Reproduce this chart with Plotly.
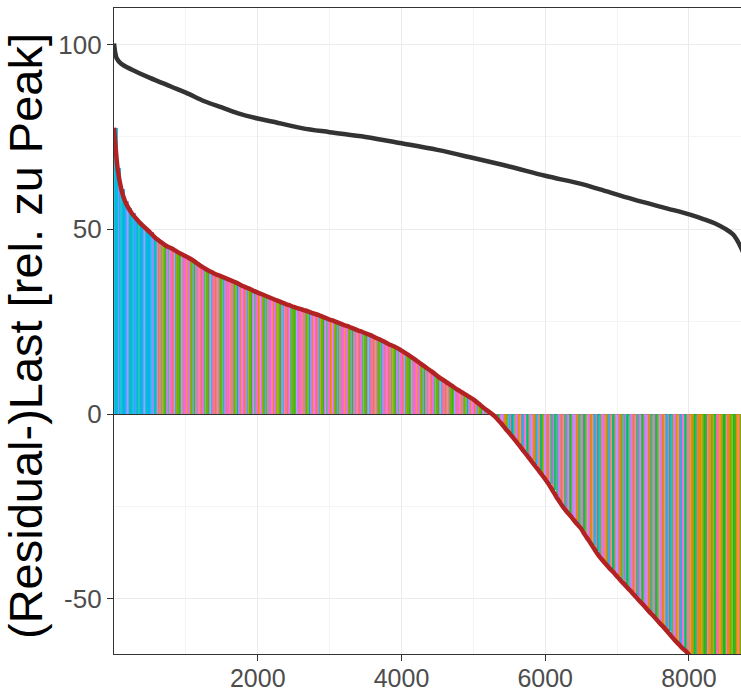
import plotly.graph_objects as go

# ---------------- data ----------------
hours = list(range(0, 8800, 50))  # 0 .. 8750
residual = [
    77.5, 66.5, 61.0, 57.8, 55.8, 54.3, 53.1, 52.0, 51.0, 50.1,   # 0-450
    49.2, 48.2, 47.3, 46.6, 45.9, 45.3, 44.9, 44.3, 43.7, 43.2,   # 500-950
    42.7, 42.2, 41.6, 40.9, 40.2, 39.6, 39.0, 38.5, 38.0, 37.6,   # 1000-1450
    37.2, 36.8, 36.4, 36.0, 35.6, 35.1, 34.6, 34.2, 33.8, 33.3,   # 1500-1950
    32.9, 32.5, 32.1, 31.7, 31.3, 30.9, 30.5, 30.1, 29.7, 29.4,   # 2000-2450
    29.0, 28.7, 28.4, 28.1, 27.8, 27.4, 27.1, 26.8, 26.4, 26.0,   # 2500-2950
    25.6, 25.3, 24.9, 24.5, 24.1, 23.8, 23.4, 23.0, 22.6, 22.3,   # 3000-3450
    21.9, 21.5, 21.1, 20.6, 20.2, 19.7, 19.2, 18.7, 18.3, 17.8,   # 3500-3950
    17.2, 16.6, 16.0, 15.3, 14.6, 13.9, 13.2, 12.5, 11.8, 11.1,   # 4000-4450
    10.3, 9.6, 9.0, 8.3, 7.7, 7.0, 6.4, 5.8, 5.2, 4.6,            # 4500-4950
    4.0, 3.2, 2.4, 1.6, 0.9, 0.2, -0.6, -1.7, -2.8, -4.0,         # 5000-5450
    -5.1, -6.3, -7.5, -8.7, -10.0, -11.2, -12.5, -13.8, -15.0, -16.3,  # 5500-5950
    -17.6, -19.0, -20.6, -22.2, -23.7, -25.2, -26.4, -27.5, -28.7, -29.9,  # 6000-6450
    -31.0, -32.6, -34.0, -35.5, -37.0, -38.4, -39.6, -40.7, -41.8, -42.8,  # 6500-6950
    -43.9, -45.0, -46.0, -47.1, -48.1, -49.2, -50.3, -51.3, -52.4, -53.5,  # 7000-7450
    -54.5, -55.6, -56.7, -57.7, -58.8, -60.0, -61.1, -62.1, -63.2, -64.0,  # 7500-7950
    -65.1, -66.3, -67.5, -68.8, -70.1, -71.5, -72.9, -74.4, -76.0, -77.6,  # 8000-8450
    -79.3, -81.2, -83.3, -85.7, -88.5, -92.0,                              # 8500-8750
]

load_hours = [0, 20, 40, 100, 250, 500, 800, 1000, 1267, 1500, 1727, 2000, 2195,
              2612, 3000, 3500, 4000, 4500, 5000, 5500, 6000, 6500, 6763, 7226,
              7690, 8015, 8200, 8386, 8500, 8615, 8700, 8760]
load = [100.3, 97.5, 96.2, 94.8, 93.2, 91.0, 88.6, 87.0, 84.6, 83.0, 81.4, 80.0, 79.2,
        77.4, 76.3, 75.0, 73.3, 71.5, 69.3, 67.0, 64.5, 62.3, 60.8, 58.1,
        55.7, 54.0, 52.8, 51.4, 50.2, 48.6, 46.0, 43.5]

x_ticks = [2000, 4000, 6000, 8000]
y_ticks = [-50, 0, 50, 100]
y_title = "(Residual-)Last [rel. zu Peak]"

# ---------------- styles ----------------
cool = ["#00BFC4", "#00B6EB", "#35A2FF", "#00AEFA", "#00C1AE", "#9590FF", "#00BBD8"]
mixed1 = ["#FF62BC", "#6BB100", "#F8766D", "#00C097", "#C77CFF", "#E38900",
          "#35A2FF", "#FA62DB", "#A9A400", "#00BFC4", "#E76BF3", "#39B600"]
mixed2 = ["#9590FF", "#35A2FF", "#8EAB00", "#E76BF3", "#00BD5F", "#FF62BC",
          "#C09B00", "#C77CFF", "#6BB100", "#00AEFA", "#E38900", "#FA62DB"]
warm = ["#E38900", "#6BB100", "#39B600", "#EF7F49", "#8EAB00", "#FF62BC", "#D49200", "#00BA42"]


def stripe_color(j, h):
    if h < 600:
        p, s = cool, 3
    elif h < 5300:
        p, s = mixed1, 5
    elif h < 8000:
        p, s = mixed2, 5
    else:
        p, s = warm, 3
    return p[(j * s) % len(p)]


SUB = 3          # visual sub-stripes per bar (same value, different colour)
BAR_W = 50

fig = go.Figure()
for k in range(SUB):
    cols = [stripe_color(i * SUB + k, h) for i, h in enumerate(hours)]
    fig.add_trace(go.Bar(x=hours, y=residual, width=BAR_W / SUB, offset=k * BAR_W / SUB,
                         marker=dict(color=cols, line=dict(width=0), opacity=0.88),
                         hoverinfo="skip", showlegend=False))
fig.add_trace(go.Scatter(x=hours, y=residual, mode="lines",
                         line=dict(color="#B22222", width=4.5, shape="spline", smoothing=0.6),
                         showlegend=False))
fig.add_trace(go.Scatter(x=load_hours, y=load, mode="lines",
                         line=dict(color="#333333", width=4.5, shape="spline"),
                         showlegend=False))

fig.update_layout(
    width=741, height=691,
    margin=dict(l=114, r=0, t=8, b=37, autoexpand=False),
    paper_bgcolor="white", plot_bgcolor="white",
    bargap=0, barmode="overlay",
    font=dict(family="Liberation Sans, Arial, sans-serif"),
)
fig.update_xaxes(
    range=[0, 8724], tickvals=x_ticks, ticktext=[str(v) for v in x_ticks],
    automargin=False,
    showgrid=True, gridcolor="#EBEBEB", gridwidth=1.2,
    minor=dict(dtick=1000, tick0=0, showgrid=True, gridcolor="#F4F4F4", gridwidth=0.6),
    ticks="outside", ticklen=6, tickwidth=1.2, tickcolor="#333333",
    tickfont=dict(size=25, color="#4D4D4D"), ticklabelstandoff=-4,
    showline=True, linecolor="#333333", linewidth=1.2, mirror=True,
    zeroline=False,
)
fig.update_yaxes(
    range=[-64.9, 109.9], tickvals=y_ticks, ticktext=[str(v) for v in y_ticks],
    automargin=False,
    showgrid=True, gridcolor="#EBEBEB", gridwidth=1.2,
    minor=dict(dtick=25, tick0=0, showgrid=True, gridcolor="#F4F4F4", gridwidth=0.6),
    ticks="outside", ticklen=6, tickwidth=1.2, tickcolor="#333333",
    tickfont=dict(size=26, color="#4D4D4D"),
    showline=True, linecolor="#333333", linewidth=1.2,
    zeroline=True, zerolinecolor="#333333", zerolinewidth=1,
)

# y-axis title as a rotated annotation
fig.add_annotation(text=y_title, textangle=-90, showarrow=False,
                   xref="paper", yref="paper", x=(25 - 114) / 627, y=1 - (336 - 8) / 646,
                   xanchor="center", yanchor="middle",
                   font=dict(size=47, color="#000000", family="Liberation Sans, Arial, sans-serif"))

fig.write_html("out.html", config={"displayModeBar": False},
               post_script="document.body.style.margin='0px';document.body.style.overflow='hidden';")
